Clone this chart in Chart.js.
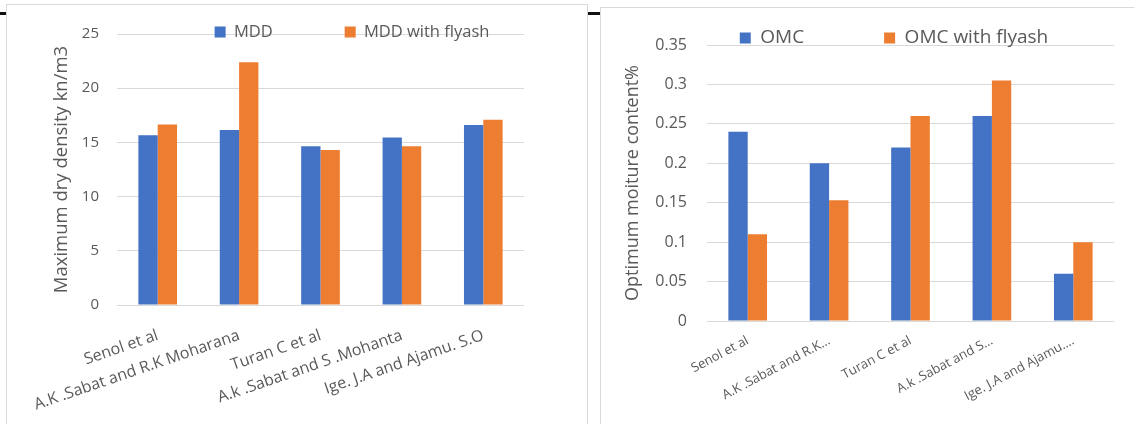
<!DOCTYPE html>
<html>
<head>
<meta charset="utf-8">
<script src="https://cdn.jsdelivr.net/npm/chart.js@4/dist/chart.umd.min.js"></script>
<style>
  html, body { margin: 0; padding: 0; background: #fff; width: 1134px; height: 424px; overflow: hidden; position: relative; }
  .panel { position: absolute; border: 1px solid #d9d9d9; background: #fff; }
  #p1 { left: 6px; top: 4px; width: 580px; height: 440px; }
  #p2 { left: 600px; top: 7px; width: 560px; height: 440px; }
  canvas { display: block; }
  .rule { position: absolute; top: 12px; height: 3px; background: #111; }
</style>
</head>
<body>
<div class="rule" style="left:0;width:7px"></div>
<div class="rule" style="left:587px;width:13px"></div>
<div class="panel" id="p1"><canvas id="mdd" width="580" height="419"></canvas></div>
<div class="panel" id="p2"><canvas id="omc" width="533" height="416"></canvas></div>
<script>
// ---------------------------------------------------------
// Data
// ---------------------------------------------------------
const MDD_CATS = ['Senol et al', 'A.K .Sabat and R.K Moharana', 'Turan C et al', 'A.k .Sabat and S .Mohanta', 'Ige. J.A and Ajamu. S.O'];
const MDD = [15.65, 16.15, 14.65, 15.45, 16.6];
const MDD_FLYASH = [16.65, 22.4, 14.3, 14.65, 17.1];
const MDD_TICKS = [0, 5, 10, 15, 20, 25];

const OMC_CATS = ['Senol et al', 'A.K .Sabat and R.K…', 'Turan C et al', 'A.k .Sabat and S…', 'Ige. J.A and Ajamu.…'];
const OMC = [0.24, 0.2, 0.22, 0.26, 0.06];
const OMC_FLYASH = [0.11, 0.153, 0.26, 0.305, 0.1];
const OMC_TICKS = [0, 0.05, 0.1, 0.15, 0.2, 0.25, 0.3, 0.35];

// ---------------------------------------------------------
// Theme
// ---------------------------------------------------------
const BLUE = '#4472c4';
const ORANGE = '#ed7d31';
const TEXT = '#595959';
const GRID = '#d9d9d9';
const FONT = "'Open Sans', 'Noto Sans', sans-serif";

Chart.defaults.font.family = FONT;
Chart.defaults.color = TEXT;

// legend sits over the top gridline like Excel does, so move it after layout
// (the box is also grown back, v4 clips the legend to its own box)
const legendSpot = {
  id: 'legendSpot',
  afterLayout(chart, args, opts) {
    const lg = chart.legend;
    if (!lg) return;
    const pad = lg.options.labels.padding;
    const size = lg.options.labels.font.size;
    const w = lg.right - lg.left;
    lg.top = opts.y - pad - size / 2;
    lg.bottom = opts.y + size * 1.5;
    lg.height = lg.bottom - lg.top;
    lg.left = opts.cx - w / 2;
    lg.right = lg.left + w;
  },
};

function makeBarChart(id, p) {
  const ctx = document.getElementById(id).getContext('2d');
  return new Chart(ctx, {
    type: 'bar',
    data: {
      labels: p.cats,
      datasets: p.series.map(s => ({
        label: s.label,
        data: s.data,
        backgroundColor: s.color,
        borderWidth: 0,
        categoryPercentage: 0.475,
        barPercentage: 1,
      })),
    },
    plugins: [legendSpot],
    options: {
      responsive: false,
      animation: false,
      layout: { padding: { top: p.top, right: p.right, left: 0, bottom: 0 } },
      plugins: {
        tooltip: { enabled: false },
        legend: {
          position: 'top',
          maxHeight: 1,
          labels: {
            boxWidth: 11, boxHeight: 11,
            padding: p.legendGap,
            color: TEXT,
            font: { size: p.legendSize },
          },
        },
        legendSpot: { cx: p.legendX, y: p.legendY },
      },
      scales: {
        x: {
          grid: { display: false, drawTicks: false },
          border: { display: false },
          ticks: {
            autoSkip: false,
            minRotation: p.rot, maxRotation: p.rot,
            padding: p.xPad,
            color: TEXT,
            font: { size: p.xSize },
          },
          afterFit: s => { s.height = p.xHeight; },
        },
        y: {
          min: p.ticks[0],
          max: p.ticks[p.ticks.length - 1],
          grid: { color: GRID, lineWidth: 1, drawTicks: false },
          border: { display: false },
          ticks: { padding: p.yPad, color: TEXT, font: { size: p.ySize }, callback: v => String(v) },
          afterBuildTicks: s => { s.ticks = p.ticks.map(v => ({ value: v })); },
          title: {
            display: true,
            text: p.title,
            color: TEXT,
            font: { size: p.titleSize },
            padding: { top: p.titlePad, bottom: 0 },
          },
          afterFit: s => { s.width = p.yWidth; },
        },
      },
    },
  });
}

// ---------------------------------------------------------
// Left: maximum dry density
// ---------------------------------------------------------
makeBarChart('mdd', {
  cats: MDD_CATS,
  series: [
    { label: 'MDD', data: MDD, color: BLUE },
    { label: 'MDD with flyash', data: MDD_FLYASH, color: ORANGE },
  ],
  ticks: MDD_TICKS,
  title: 'Maximum dry density kn/m3',
  top: 28, right: 63,
  yWidth: 110, xHeight: 119,
  rot: 19, xPad: 21, xSize: 16,
  yPad: 18, ySize: 15,
  titleSize: 18.5, titlePad: 44,
  legendSize: 16.5, legendGap: 72, legendX: 345, legendY: 27,
});

// ---------------------------------------------------------
// Right: optimum moisture content
// ---------------------------------------------------------
makeBarChart('omc', {
  cats: OMC_CATS,
  series: [
    { label: 'OMC', data: OMC, color: BLUE },
    { label: 'OMC with flyash', data: OMC_FLYASH, color: ORANGE },
  ],
  ticks: OMC_TICKS,
  title: 'Optimum moiture content%',
  top: 36, right: 20,
  yWidth: 106, xHeight: 103,
  rot: 28, xPad: 12, xSize: 13,
  yPad: 20, ySize: 16,
  titleSize: 18, titlePad: 21,
  legendSize: 19, legendGap: 80, legendX: 293, legendY: 30,
});
</script>
</body>
</html>
